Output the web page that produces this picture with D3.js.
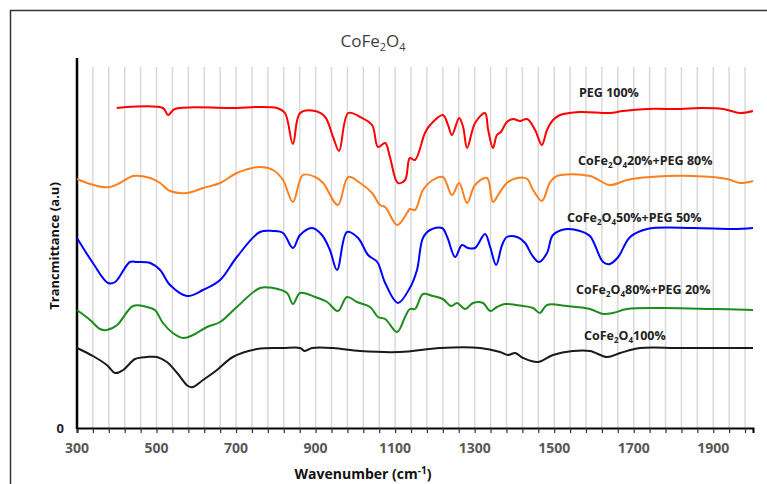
<!DOCTYPE html>
<html lang="en">

<head>
    <meta charset="UTF-8">
    <title>CoFe2O4 FTIR</title>
    <script src="https://d3js.org/d3.v7.min.js"></script>
    <style type="text/css">
        body {
            margin: 0;
            background: #fff;
            font-family: "Open Sans", sans-serif;
        }

        .grid line {
            stroke: #d9d9d9;
            stroke-width: 1.5;
        }

        .spec {
            fill: none;
            stroke-width: 2;
        }

        .lbl {
            font-size: 12.5px;
            font-weight: 700;
            fill: #222;
        }
    </style>
</head>

<body>
    <div id="chartArea"></div>
    <script type="text/javascript">
        // wavenumber (cm-1) / transmittance (a.u.) pairs
        var pegX = [400, 516, 529, 546, 685, 803, 823, 843, 861, 899, 924, 944, 959, 982, 1012, 1042, 1057, 1075, 1087, 1107, 1125, 1137, 1150, 1175, 1188, 1220, 1233, 1243, 1261, 1271, 1281, 1301, 1326, 1334, 1346, 1356, 1366, 1381, 1397, 1414, 1432, 1452, 1469, 1482, 1497, 1515, 1565, 1640, 1673, 1734, 1817, 1867, 1925, 1967, 2000];
        var pegY = [64, 64, 62.6, 63.8, 64, 64, 63, 56.8, 63, 63.4, 62.2, 58.2, 55.4, 63, 62.2, 60.6, 56.2, 57, 54.2, 49, 49.6, 54, 53.6, 59, 60.6, 62.6, 60.6, 58.6, 62, 60.2, 56, 61, 63, 59.6, 56, 58.6, 59.2, 61.2, 61.8, 61.4, 61.8, 59.6, 56.6, 59.6, 61.6, 62.6, 63.2, 63, 63.4, 63.8, 63.8, 64, 63.8, 63, 63.4];

        var c20X = [300, 333, 365, 383, 408, 441, 484, 509, 534, 577, 617, 660, 702, 760, 793, 818, 843, 868, 899, 919, 956, 982, 1012, 1042, 1062, 1075, 1105, 1130, 1137, 1150, 1170, 1195, 1220, 1243, 1261, 1281, 1301, 1331, 1346, 1359, 1381, 1407, 1432, 1447, 1469, 1490, 1507, 1590, 1640, 1683, 1741, 1849, 1935, 1967, 2000];
        var c20Y = [49.8, 48.8, 48.2, 48.2, 49, 50.4, 50, 49, 47.4, 47, 48, 49, 51, 52.2, 51.6, 49.6, 45.2, 50.6, 50.2, 49, 44.6, 50.2, 49, 47, 44.6, 44.2, 40.6, 43, 43.8, 43.6, 47.6, 49.6, 50.2, 46.6, 49, 45, 48.6, 50, 45.2, 46.6, 49, 50, 49.8, 47.6, 45.4, 49.2, 50.4, 50.4, 48.6, 49.6, 50.2, 50.4, 49.8, 49, 49.4];

        var c50X = [300, 340, 378, 396, 433, 451, 484, 509, 534, 577, 617, 660, 702, 760, 793, 818, 843, 861, 891, 916, 936, 954, 979, 1007, 1032, 1055, 1075, 1107, 1137, 1155, 1170, 1188, 1218, 1231, 1251, 1268, 1283, 1301, 1326, 1339, 1354, 1369, 1381, 1407, 1427, 1444, 1462, 1482, 1497, 1532, 1565, 1590, 1623, 1640, 1661, 1691, 1734, 1849, 1950, 2000];
        var c50Y = [38, 33, 29, 29.2, 33.2, 33.2, 33, 31.6, 28.6, 26.4, 27.6, 29.6, 34.2, 39.2, 39.4, 39, 36, 38.6, 40, 38.6, 35.6, 31.6, 39.2, 38, 34.6, 33.2, 29, 25, 28, 31.6, 38, 39.6, 40, 38.2, 34.2, 36.6, 36, 36, 38.8, 36.2, 32.6, 36.6, 38.2, 38.2, 37, 34.6, 33.2, 35, 38.6, 39.8, 39.4, 38.4, 33.2, 32.8, 34.2, 38.2, 39.8, 40, 39.8, 40];

        var c80X = [300, 333, 358, 375, 401, 441, 476, 496, 516, 541, 567, 592, 627, 660, 702, 760, 793, 828, 843, 861, 899, 929, 956, 979, 1004, 1037, 1057, 1075, 1105, 1125, 1137, 1150, 1170, 1195, 1220, 1241, 1256, 1276, 1296, 1321, 1339, 1356, 1376, 1422, 1447, 1464, 1482, 1532, 1590, 1623, 1648, 1683, 1774, 1900, 2000];
        var c80Y = [23.6, 21.6, 19.8, 19.6, 20.6, 24.4, 24.2, 23.6, 21, 19, 18, 18.6, 20.2, 21.2, 24.2, 28, 28, 27, 24.8, 27, 26.2, 25.2, 23.4, 26.2, 25.2, 24.2, 22.2, 21.8, 19.2, 22.2, 23.8, 23.8, 26.8, 26.4, 25.8, 24.4, 25, 23.8, 25, 25, 23.4, 24.2, 24.8, 24.4, 24, 23, 24.6, 24.4, 23.8, 22.8, 23, 23.8, 24, 23.8, 23.6];

        var c100X = [300, 340, 375, 396, 416, 446, 476, 501, 526, 552, 579, 592, 617, 652, 692, 753, 818, 861, 873, 891, 944, 1012, 1112, 1213, 1314, 1364, 1384, 1402, 1422, 1459, 1497, 1547, 1590, 1633, 1666, 1716, 1817, 2000];
        var c100Y = [16, 14.4, 12.6, 11, 11.6, 13.8, 14.2, 14.2, 13.2, 11, 8.4, 8.2, 9.6, 11.6, 14.2, 15.8, 16, 16, 15.4, 16, 16, 15.4, 15.2, 16, 16, 15.2, 14.6, 15, 14, 13.2, 14.6, 15.4, 15.4, 14.2, 15, 16, 16, 16];

        var xTickLabels = [300, 500, 700, 900, 1100, 1300, 1500, 1700, 1900];

        var series = [
            { x: pegX, y: pegY, color: '#ff0000', name: ['PEG 100%'], lx: 579, ly: 97 },
            { x: c20X, y: c20Y, color: '#ff7f1e', name: ['CoFe', '2', 'O', '4', '20%+PEG 80%'], lx: 578, ly: 165 },
            { x: c50X, y: c50Y, color: '#0000ff', name: ['CoFe', '2', 'O', '4', '50%+PEG 50%'], lx: 567, ly: 222 },
            { x: c80X, y: c80Y, color: '#1d8c1d', name: ['CoFe', '2', 'O', '4', '80%+PEG 20%'], lx: 576, ly: 294 },
            { x: c100X, y: c100Y, color: '#1a1a1a', name: ['CoFe', '2', 'O', '4', '100%'], lx: 584, ly: 340 }
        ];

        var w = 767, h = 484;
        var svg = d3.select('#chartArea').append('svg')
            .attr('width', w)
            .attr('height', h);

        // outer frame (runs off the right and bottom edge)
        svg.append('rect')
            .attr('x', 10.5).attr('y', 10.5)
            .attr('width', 800).attr('height', 500)
            .attr('fill', 'none')
            .attr('stroke', '#333')
            .attr('stroke-width', 1.5);

        var xScale = d3.scaleLinear().domain([300, 2000]).range([77, 753]);
        var yScale = d3.scaleLinear().domain([0, 74]).range([428, 58]);

        // vertical gridlines every 40 cm-1
        svg.append('g').attr('class', 'grid')
            .selectAll('line')
            .data(d3.range(340, 2000, 40))
            .enter().append('line')
            .attr('x1', function (d) { return xScale(d); })
            .attr('x2', function (d) { return xScale(d); })
            .attr('y1', 67)
            .attr('y2', yScale(0));

        // x axis
        var xAxis = d3.axisBottom(xScale)
            .tickValues(d3.range(300, 2001, 40))
            .tickSize(5)
            .tickFormat('');
        var gx = svg.append('g')
            .attr('transform', 'translate(0,' + yScale(0) + ')')
            .call(xAxis);
        gx.select('.domain').attr('stroke', '#000').attr('stroke-width', 2);
        gx.selectAll('.tick line').attr('stroke', '#333').attr('stroke-width', 1.2);

        svg.append('g').selectAll('text')
            .data(xTickLabels)
            .enter().append('text')
            .attr('x', function (d) { return xScale(d); })
            .attr('y', 453)
            .attr('text-anchor', 'middle')
            .style('font-size', '14px')
            .style('font-weight', 700)
            .style('fill', '#595959')
            .text(function (d) { return d; });

        // y axis: plain line with only the 0 label
        svg.append('line')
            .attr('x1', xScale(300)).attr('x2', xScale(300))
            .attr('y1', yScale(74)).attr('y2', yScale(0) + 1)
            .attr('stroke', '#000').attr('stroke-width', 2.5);
        svg.append('text')
            .attr('x', 64).attr('y', yScale(0) + 5)
            .attr('text-anchor', 'end')
            .style('font-size', '13px')
            .style('font-weight', 700)
            .style('fill', '#222')
            .text('0');

        var line = d3.line()
            .x(function (d) { return xScale(d[0]); })
            .y(function (d) { return yScale(d[1]); })
            .curve(d3.curveCatmullRom.alpha(0.5));

        series.forEach(function (s) {
            svg.append('path')
                .datum(d3.zip(s.x, s.y))
                .attr('class', 'spec')
                .attr('stroke', s.color)
                .attr('d', line);

            var t = svg.append('text').attr('class', 'lbl')
                .attr('x', s.lx).attr('y', s.ly);
            s.name.forEach(function (part, i) {
                var sub = (s.name.length > 1 && (i == 1 || i == 3));
                var ts = t.append('tspan').text(part);
                if (sub) ts.attr('dy', 3).style('font-size', '8px');
                else if (i > 0) ts.attr('dy', -3);
            });
        });

        // title
        var title = svg.append('text')
            .attr('x', 373).attr('y', 47)
            .attr('text-anchor', 'middle')
            .style('font-size', '17px')
            .style('fill', '#404040');
        title.append('tspan').text('CoFe');
        title.append('tspan').text('2').attr('dy', 4).style('font-size', '11px');
        title.append('tspan').text('O').attr('dy', -4);
        title.append('tspan').text('4').attr('dy', 4).style('font-size', '11px');

        // axis titles
        svg.append('text')
            .attr('transform', 'translate(59,246) rotate(-90)')
            .attr('text-anchor', 'middle')
            .style('font-size', '13px')
            .style('font-weight', 700)
            .style('fill', '#111')
            .text('Trancmittance (a.u)');

        var xt = svg.append('text')
            .attr('x', 363).attr('y', 479)
            .attr('text-anchor', 'middle')
            .style('font-size', '14px')
            .style('font-weight', 700)
            .style('fill', '#111');
        xt.append('tspan').text('Wavenumber (cm');
        xt.append('tspan').text('-1').attr('dy', -5).style('font-size', '10px');
        xt.append('tspan').text(')').attr('dy', 5);
    </script>
</body>

</html>
